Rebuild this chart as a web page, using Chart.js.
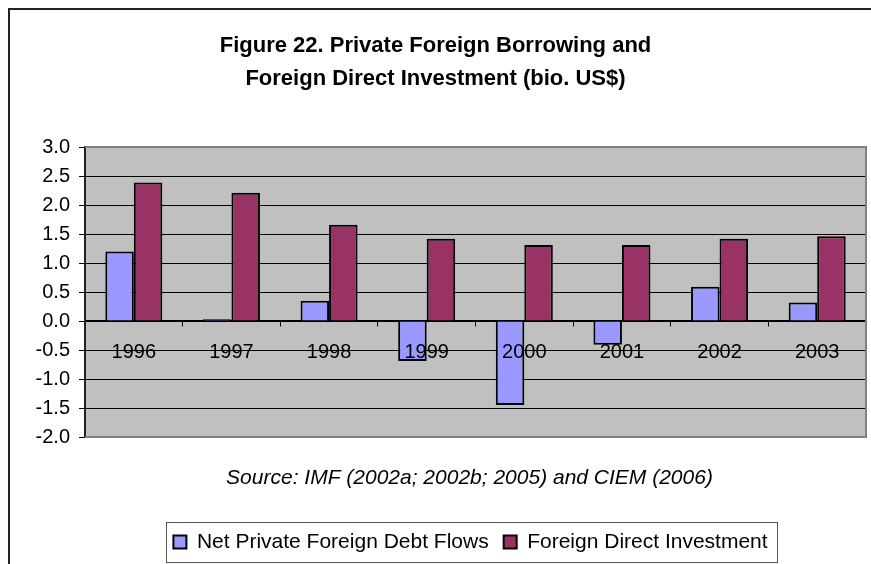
<!DOCTYPE html>
<html>
<head>
<meta charset="utf-8">
<script src="https://cdn.jsdelivr.net/npm/chart.js@4/dist/chart.umd.min.js"></script>
<style>
  html, body { margin: 0; padding: 0; background: #fff; overflow: hidden; }
  #wrap { position: absolute; left: 0; top: 0; width: 871px; height: 564px; }
</style>
</head>
<body>
<div id="wrap"><canvas id="chart" width="871" height="564"></canvas></div>
<script>
// Years on the category axis
const years = ['1996', '1997', '1998', '1999', '2000', '2001', '2002', '2003'];
// Net private foreign debt flows, bio. US$
const debtFlows = [1.2, 0.03, 0.35, -0.69, -1.45, -0.41, 0.59, 0.32];
// Foreign direct investment, bio. US$
const fdi = [2.39, 2.21, 1.66, 1.42, 1.31, 1.31, 1.42, 1.46];
// Series names
const seriesNames = ['Net Private Foreign Debt Flows', 'Foreign Direct Investment'];
// Value axis range and step
const yMin = -2.0, yMax = 3.0, yStep = 0.5;

const titleLines = ['Figure 22. Private Foreign Borrowing and', 'Foreign Direct Investment (bio. US$)'];
const sourceNote = 'Source: IMF (2002a; 2002b; 2005) and CIEM (2006)';

const FONT = "Arial, 'Liberation Sans', sans-serif";
Chart.defaults.font.family = FONT;
Chart.defaults.color = '#000';

// Outer frame, grey plot background, plot outline and legend box
const decorations = {
  id: 'decorations',
  afterLayout(chart) {
    // legend and source note sit slightly left of the plot centre
    const lg = chart.legend;
    if (lg) { lg.left -= 5; lg.right -= 5; }
    const note = chart.boxes.find(b => b !== chart.titleBlock && b.options && b.options.text === sourceNote);
    if (note) { note.left -= 6; note.right -= 6; }
  },
  beforeDraw(chart) {
    const { ctx, chartArea: a } = chart;
    ctx.save();
    ctx.fillStyle = '#fff';
    ctx.fillRect(0, 0, chart.width, chart.height);
    ctx.strokeStyle = '#222';
    ctx.lineWidth = 2;
    ctx.beginPath();
    ctx.moveTo(9, chart.height + 5);
    ctx.lineTo(9, 9);
    ctx.lineTo(chart.width + 5, 9);
    ctx.stroke();
    ctx.fillStyle = '#c0c0c0';
    ctx.fillRect(a.left, a.top, a.right - a.left, a.bottom - a.top);
    ctx.restore();
  },
  beforeDatasetsDraw(chart) {
    const { ctx, chartArea: a } = chart;
    ctx.save();
    ctx.strokeStyle = '#808080';
    ctx.lineWidth = 2;
    ctx.beginPath();
    ctx.moveTo(a.left, a.top);
    ctx.lineTo(a.right, a.top);
    ctx.lineTo(a.right, a.bottom);
    ctx.lineTo(a.left, a.bottom);
    ctx.stroke();
    ctx.restore();
  },
  afterDraw(chart) {
    const lg = chart.legend;
    if (!lg || !lg.legendHitBoxes || !lg.legendHitBoxes.length) return;
    const hb = lg.legendHitBoxes;
    const first = hb[0], last = hb[hb.length - 1];
    const cy = first.top + first.height / 2;
    const { ctx } = chart;
    ctx.save();
    ctx.strokeStyle = '#555';
    ctx.lineWidth = 1;
    const x0 = Math.round(first.left - 7) + 0.5;
    const x1 = Math.round(last.left + last.width + 9) + 0.5;
    ctx.strokeRect(x0, Math.round(cy - 20) + 0.5, x1 - x0, 40);
    ctx.restore();
  }
};

new Chart(document.getElementById('chart'), {
  type: 'bar',
  data: {
    labels: years,
    datasets: [
      { label: seriesNames[0], data: debtFlows, backgroundColor: '#9999ff', borderColor: '#000', borderWidth: 2 },
      { label: seriesNames[1], data: fdi, backgroundColor: '#993366', borderColor: '#000', borderWidth: 2 }
    ]
  },
  options: {
    responsive: false,
    animation: false,
    layout: { padding: { left: 0, right: 0, top: 0, bottom: 1.5 } },
    datasets: { bar: { categoryPercentage: 0.584, barPercentage: 1 } },
    scales: {
      x: {
        position: { y: 0 },
        grid: { display: true, drawOnChartArea: false, drawTicks: true, tickLength: 5, color: '#000', offset: true },
        border: { display: true, color: '#000', width: 1.5 },
        ticks: { font: { size: 20 }, color: '#000', padding: 14, z: 1, maxRotation: 0 }
      },
      y: {
        position: 'left',
        min: yMin, max: yMax,
        ticks: {
          stepSize: yStep, font: { size: 20 }, color: '#000', padding: 9,
          callback: v => Number(v).toFixed(1)
        },
        grid: { color: '#000', lineWidth: 1, tickLength: 6, drawTicks: true },
        border: { display: true, color: '#222', width: 2 },
        afterFit: s => { s.width = 85; }
      },
      yRight: {
        type: 'linear',
        position: 'right',
        display: true,
        grid: { display: false },
        border: { display: false },
        ticks: { display: false },
        afterFit: s => { s.width = 5; }
      }
    },
    plugins: {
      title: {
        display: true,
        text: titleLines,
        font: { size: 22, weight: 'bold', lineHeight: 1.5 },
        color: '#000',
        padding: { top: 29.5, bottom: 51.5 }
      },
      subtitle: {
        display: true,
        position: 'bottom',
        fullSize: false,
        weight: 500,
        text: sourceNote,
        font: { size: 21, style: 'italic', lineHeight: 1.2 },
        color: '#000',
        padding: { top: 28.5, bottom: 25.8 }
      },
      legend: {
        display: true,
        position: 'bottom',
        fullSize: false,
        weight: 1000,
        labels: { font: { size: 21 }, color: '#000', boxWidth: 13, boxHeight: 13, padding: 15 }
      },
      tooltip: { enabled: false }
    }
  },
  plugins: [decorations]
});
</script>
</body>
</html>
